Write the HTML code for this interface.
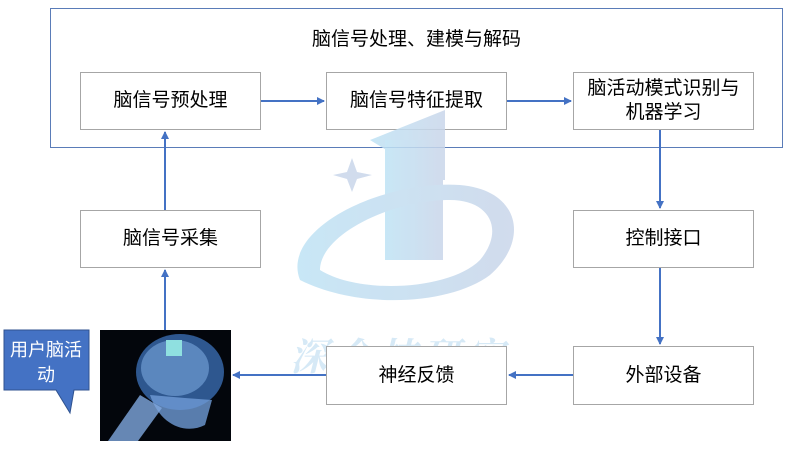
<!DOCTYPE html>
<html><head><meta charset="utf-8"><style>
body{margin:0;width:800px;height:452px;background:#fff;position:relative;overflow:hidden;font-family:"Liberation Sans","Noto Sans CJK SC",sans-serif}
.b{position:absolute;border:1px solid #a6a6a6;background:#fff;display:flex;align-items:center;justify-content:center;text-align:center;font-size:19px;color:#000;box-sizing:border-box;line-height:24px}
</style></head><body>
<div style="position:absolute;left:50px;top:8px;width:733px;height:140px;border:1px solid #5a7cb8;box-sizing:border-box"></div>
<div style="position:absolute;left:50px;width:733px;top:24px;text-align:center;font-size:19px">脑信号处理、建模与解码</div>
<div class="b" style="left:80px;top:72px;width:181px;height:58px">脑信号预处理</div>
<div class="b" style="left:326px;top:72px;width:181px;height:58px">脑信号特征提取</div>
<div class="b" style="left:573px;top:72px;width:181px;height:58px">脑活动模式识别与<br>机器学习</div>
<div class="b" style="left:80px;top:210px;width:181px;height:58px">脑信号采集</div>
<div class="b" style="left:573px;top:210px;width:181px;height:58px">控制接口</div>
<svg style="position:absolute;left:0;top:0" width="800" height="452">
<defs><marker id="a" markerWidth="8" markerHeight="8" refX="7" refY="4" orient="auto" markerUnits="userSpaceOnUse"><path d="M0,0L8,4L0,8z" fill="#4472c4"/></marker>
<linearGradient id="g" x1="0" x2="1"><stop offset="0" stop-color="#bfe3f5"/><stop offset="1" stop-color="#c9d6ea"/></linearGradient></defs>
<g opacity="0.85">
<path d="M370,140 L445,110 L445,180 L435,180 Z" fill="url(#g)"/>
<rect x="385" y="140" width="58" height="120" fill="url(#g)"/>
<path d="M300,280 C280,230 380,180 460,185 C520,190 530,240 490,275 C450,305 360,310 300,280 Z M320,270 C360,295 450,290 480,260 C505,230 490,200 450,200 C390,200 320,235 320,270 Z" fill="url(#g)" fill-rule="evenodd"/>
<path d="M352,158 L357,172 L372,175 L357,179 L352,192 L347,179 L333,175 L347,172 Z" fill="#c9d6ea"/>
<text x="400" y="370" font-size="38" font-style="italic" font-weight="bold" fill="#cfe6f5" text-anchor="middle" font-family="Noto Serif CJK SC,serif" letter-spacing="6">深企技研究</text>
</g>
<g stroke="#4472c4" stroke-width="2" fill="none">
<line x1="261" y1="101" x2="324" y2="101" marker-end="url(#a)"/>
<line x1="507" y1="101" x2="571" y2="101" marker-end="url(#a)"/>
<line x1="660" y1="130" x2="660" y2="208" marker-end="url(#a)"/>
<line x1="660" y1="268" x2="660" y2="344" marker-end="url(#a)"/>
<line x1="573" y1="375" x2="509" y2="375" marker-end="url(#a)"/>
<line x1="326" y1="375" x2="233" y2="375" marker-end="url(#a)"/>
<line x1="165" y1="330" x2="165" y2="270" marker-end="url(#a)"/>
<line x1="165" y1="210" x2="165" y2="132" marker-end="url(#a)"/>
</g>
<rect x="100" y="330" width="131" height="111" fill="#03060c"/>
<ellipse cx="180" cy="372" rx="44" ry="38" fill="#3a6bb0" opacity="0.8"/>
<ellipse cx="175" cy="368" rx="34" ry="28" fill="#7aa6dd" opacity="0.6"/>
<path d="M150,395 C160,425 185,435 205,425 L212,400 L185,398 Z" fill="#6f9bd6" opacity="0.8"/>
<path d="M108,441 L140,395 L162,408 L138,441 Z" fill="#7fa8de" opacity="0.8"/>
<rect x="166" y="340" width="16" height="16" fill="#8fe0e0"/>
<path d="M4,330 H89 V390 H74 L70,413 L56,390 H4 Z" fill="#4472c4" stroke="#2f528f"/>
<text x="46" y="356" font-size="18" fill="#fff" text-anchor="middle" font-family="Liberation Sans,Noto Sans CJK SC,sans-serif">用户脑活</text>
<text x="46" y="381" font-size="18" fill="#fff" text-anchor="middle" font-family="Liberation Sans,Noto Sans CJK SC,sans-serif">动</text>
</svg>
<div class="b" style="left:326px;top:346px;width:181px;height:59px">神经反馈</div>
<div class="b" style="left:573px;top:346px;width:181px;height:59px">外部设备</div>
</body></html>
